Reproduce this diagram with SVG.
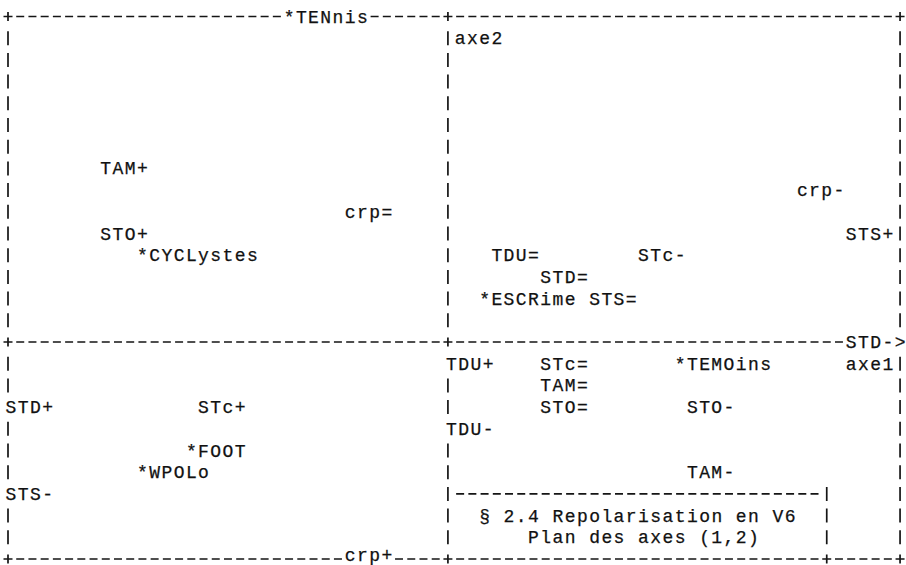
<svg xmlns="http://www.w3.org/2000/svg" xmlns:xlink="http://www.w3.org/1999/xlink" width="906" height="565" viewBox="0 0 906 565">
<style>
.t{font-family:"Liberation Mono","DejaVu Sans Mono",monospace;font-size:18px;letter-spacing:1.42px;fill:#111111;stroke:#111111;stroke-width:0.25;white-space:pre}
.h{stroke:#151515;stroke-width:1.7;stroke-dasharray:8 4.22;fill:none}
.v{stroke:#151515;stroke-width:1.7;stroke-dasharray:14 7.7;fill:none}
.p{stroke:#151515;stroke-width:1.7;fill:none}
</style>
<defs>
<path id="plus" class="p" d="M-4.5 0H4.5M0-4.5V4.5"/>
</defs>
<rect width="906" height="565" fill="#ffffff"/>
<g id="frame">
<line class="h" x1="16.22" y1="16.5" x2="280.84" y2="16.5"/>
<line class="h" x1="370.6" y1="16.5" x2="439.7" y2="16.5"/>
<line class="h" x1="456.14" y1="16.5" x2="891.84" y2="16.5"/>
<line class="h" x1="16.22" y1="342" x2="439.7" y2="342"/>
<line class="h" x1="456.14" y1="342" x2="842.96" y2="342"/>
<line class="h" x1="456.14" y1="493.9" x2="818.52" y2="493.9"/>
<line class="h" x1="16.22" y1="559" x2="341.94" y2="559"/>
<line class="h" x1="395.04" y1="559" x2="439.7" y2="559"/>
<line class="h" x1="456.14" y1="559" x2="818.52" y2="559"/>
<line class="h" x1="834.96" y1="559" x2="891.84" y2="559"/>
<line class="v" x1="8" y1="31.2" x2="8" y2="327.3"/>
<line class="v" x1="8" y1="356.7" x2="8" y2="392.4"/>
<line class="v" x1="8" y1="421.8" x2="8" y2="479.2"/>
<line class="v" x1="8" y1="508.6" x2="8" y2="544.3"/>
<line class="v" x1="447.92" y1="31.2" x2="447.92" y2="327.3"/>
<line class="v" x1="447.92" y1="378.4" x2="447.92" y2="414.1"/>
<line class="v" x1="447.92" y1="443.5" x2="447.92" y2="544.3"/>
<line class="v" x1="900.06" y1="31.2" x2="900.06" y2="327.3"/>
<line class="v" x1="900.06" y1="356.7" x2="900.06" y2="544.3"/>
<line class="v" x1="826.74" y1="486.9" x2="826.74" y2="544.3"/>
<use xlink:href="#plus" x="8" y="16.5"/>
<use xlink:href="#plus" x="447.92" y="16.5"/>
<use xlink:href="#plus" x="900.06" y="16.5"/>
<use xlink:href="#plus" x="8" y="342"/>
<use xlink:href="#plus" x="447.92" y="342"/>
<use xlink:href="#plus" x="8" y="559"/>
<use xlink:href="#plus" x="447.92" y="559"/>
<use xlink:href="#plus" x="826.74" y="559"/>
<use xlink:href="#plus" x="900.06" y="559"/>
</g>
<g id="labels">
<g id="tennis"><text class="t" x="283.66" y="22.5">*TENnis</text></g>
<g id="axe2"><text class="t" x="454.74" y="44.2">axe2</text></g>
<g id="tam-plus"><text class="t" x="100.36" y="174.4">TAM+</text></g>
<g id="crp-minus"><text class="t" x="796.9" y="196.1">crp-</text></g>
<g id="crp-eq"><text class="t" x="344.76" y="217.8">crp=</text></g>
<g id="sto-plus"><text class="t" x="100.36" y="239.5">STO+</text></g>
<g id="sts-plus"><text class="t" x="845.78" y="239.5">STS+</text></g>
<g id="cyclystes"><text class="t" x="137.02" y="261.2">*CYCLystes</text></g>
<g id="tdu-eq"><text class="t" x="491.4" y="261.2">TDU=</text></g>
<g id="stc-minus"><text class="t" x="638.04" y="261.2">STc-</text></g>
<g id="std-eq"><text class="t" x="540.28" y="282.9">STD=</text></g>
<g id="escrime"><text class="t" x="479.18" y="304.6">*ESCRime</text></g>
<g id="sts-eq"><text class="t" x="589.16" y="304.6">STS=</text></g>
<g id="std-minus"><text class="t" x="845.78" y="348">STD-&gt;</text></g>
<g id="tdu-plus"><text class="t" x="446" y="369.7">TDU+</text></g>
<g id="stc-eq"><text class="t" x="540.28" y="369.7">STc=</text></g>
<g id="temoins"><text class="t" x="674.7" y="369.7">*TEMOins</text></g>
<g id="axe1"><text class="t" x="845.78" y="369.7">axe1</text></g>
<g id="tam-eq"><text class="t" x="540.28" y="391.4">TAM=</text></g>
<g id="std-plus"><text class="t" x="5.5" y="413.1">STD+</text></g>
<g id="stc-plus"><text class="t" x="198.12" y="413.1">STc+</text></g>
<g id="sto-eq"><text class="t" x="540.28" y="413.1">STO=</text></g>
<g id="sto-minus"><text class="t" x="686.92" y="413.1">STO-</text></g>
<g id="tdu-minus"><text class="t" x="446" y="434.8">TDU-</text></g>
<g id="foot"><text class="t" x="185.9" y="456.5">*FOOT</text></g>
<g id="wpolo"><text class="t" x="137.02" y="478.2">*WPOLo</text></g>
<g id="tam-minus"><text class="t" x="686.92" y="478.2">TAM-</text></g>
<g id="sts-minus"><text class="t" x="5.5" y="499.9">STS-</text></g>
<g id="title"><text class="t" x="479.18" y="521.6">§ 2.4 Repolarisation en V6</text><text class="t" x="528.06" y="543.3">Plan des axes (1,2)</text></g>
<g id="crp-plus"><text class="t" x="344.76" y="561">crp+</text></g>
</g>
</svg>
